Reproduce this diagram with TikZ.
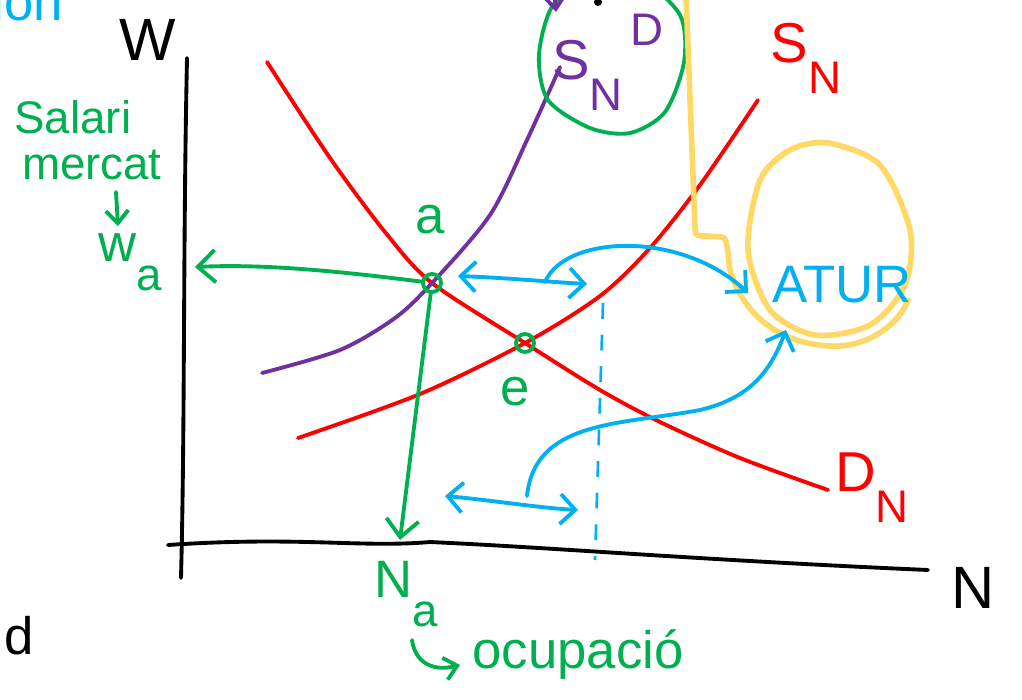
\documentclass[tikz,border=0pt]{standalone}
\usepackage{fontspec}
\setmainfont{Liberation Sans}
\usetikzlibrary{arrows.meta,positioning,calc}
\definecolor{curveRed}{RGB}{255,0,0}
\definecolor{curvePurple}{RGB}{112,48,160}
\definecolor{markGreen}{RGB}{0,176,80}
\definecolor{noteBlue}{RGB}{0,176,240}
\definecolor{markYellow}{RGB}{255,217,102}
\definecolor{inkBlack}{RGB}{0,0,0}
\tikzset{
  hand line/.style={line width=2.2pt,line cap=round,line join=round},
  axis line/.style={hand line,draw=inkBlack},
  red curve/.style={hand line,draw=curveRed},
  purple curve/.style={hand line,draw=curvePurple},
  yellow mark/.style={line width=3.2pt,line cap=round,line join=round,draw=markYellow},
  green blob/.style={hand line,draw=markGreen},
  green arrow/.style={hand line,draw=markGreen,-{Straight Barb[length=3.5mm,width=6.5mm]}},
  green small arrow/.style={hand line,draw=markGreen,-{Straight Barb[length=2.5mm,width=4.5mm]}},
  purple arrow/.style={hand line,draw=curvePurple,-{Straight Barb[length=2.5mm,width=4mm]}},
  blue arrow/.style={hand line,draw=noteBlue,-{Straight Barb[length=3mm,width=6mm]}},
  blue double/.style={hand line,draw=noteBlue,{Straight Barb[length=3mm,width=6mm]}-{Straight Barb[length=3mm,width=6mm]}},
  blue dashed/.style={line width=1.5pt,draw=noteBlue,dash pattern=on 9pt off 9pt},
  green point/.style={circle,draw=markGreen,line width=2.2pt,minimum size=3.6mm,inner sep=0pt},
  axis label/.style={text=inkBlack,font=\fontsize{34}{36}\selectfont,inner sep=0pt},
  red label/.style={text=curveRed,font=\fontsize{32}{34}\selectfont,inner sep=0pt},
  purple label/.style={text=curvePurple,font=\fontsize{32}{34}\selectfont,inner sep=0pt},
  green label/.style={text=markGreen,font=\fontsize{30}{30}\selectfont,inner sep=0pt,align=left},
  blue label/.style={text=noteBlue,font=\fontsize{30}{32}\selectfont,inner sep=0pt}
}
\newcommand{\lowsub}[1]{\raisebox{-0.55em}{\fontsize{26}{26}\selectfont #1}}

\begin{document}
\begin{tikzpicture}[x=0.02cm,y=-0.02cm]
  \useasboundingbox (0,0) rectangle (1022,700);
  % axes
  \draw[axis line] (187,58) .. controls (183,250) and (185,420) .. (181,578);
  \draw[axis line] (168,545) .. controls (300,536) and (360,548) .. (430,542) .. controls (560,548) and (700,560) .. (928,570);
  \node[axis label] (wAxis) at (148,40) {W};
  \node[axis label] (nAxis) at (973,588) {N};
  % market curves
  \coordinate (aPt) at (432,283);
  \coordinate (ePt) at (525,343);
  \draw[red curve] plot[smooth] coordinates {(267,62) (330,158) (385,232) (aPt) (ePt) (600,390) (660,422) (740,458) (828,490)};
  \draw[red curve] plot[smooth] coordinates {(298,438) (420,394) (ePt) (600,296) (650,248) (700,185) (758,100)};
  \draw[purple curve] plot[smooth] coordinates {(262,373) (340,350) (395,318) (aPt) (490,215) (527,140) (560,67)};
  \node[red label] (sLabel) at (806,58) {S\lowsub{N}};
  \node[red label] (dLabel) at (872,488) {D\lowsub{N}};
  % union supply
  \draw[green blob] plot[smooth cycle] coordinates {(553,5) (539,55) (548,100) (590,128) (630,133) (665,112) (684,62) (680,15) (640,-20) (590,-20)};
  \node[purple label] (sdLabel) at (608,62) {S\lowsub{N}\raisebox{0.6em}{\fontsize{26}{26}\selectfont\,D}};
  \coordinate (sdTop) at (552,-30);
  \coordinate (sdTip) at (556,12);
  \draw[purple arrow] (sdTop) -- (sdTip);
  \fill[inkBlack] (598,2) circle[radius=4];
  % unemployment
  \draw[yellow mark] plot[smooth cycle] coordinates {(828,143) (880,165) (910,230) (905,285) (870,325) (815,335) (770,310) (748,250) (760,180) (790,150)};
  \draw[yellow mark] (686,-5) -- (692,150) -- (695,228) .. controls (696,236) .. (706,236) -- (722,237) .. controls (728,238) and (727,250) .. (730,270) .. controls (745,320) and (785,344) .. (830,346) .. controls (870,348) and (900,322) .. (908,300);
  \node[blue label] (atur) at (842,285) {ATUR};
  % equilibrium points
  \node[green point] (a) at (aPt) {};
  \node[green point] (e) at (ePt) {};
  \node[green label] (aLabel) at (430,220) {a};
  \node[green label] (eLabel) at (515,392) {e};
  % wage and employment
  \node[green label] (waLabel) at (130,262) {w\lowsub{a}};
  \node[green label,font=\fontsize{26}{28}\selectfont] (salari) at (88,140) {Salari\\[-2pt]\,mercat};
  \coordinate (salariTip) at (118,226);
  \draw[green small arrow] (116,192) -- (salariTip);
  \coordinate (waTip) at (195,267);
  \draw[green arrow] (a) .. controls (330,270) and (260,264) .. (waTip);
  \coordinate (naTip) at (400,540);
  \draw[green arrow] (a) -- (naTip);
  \node[green label] (naLabel) at (406,594) {N\lowsub{a}};
  \coordinate (hookTip) at (460,665);
  \draw[green small arrow] (412,640) .. controls (415,662) and (432,672) .. (hookTip);
  \node[green label] (ocupacio) at (578,655) {ocupació};
  % excess supply
  \coordinate (gapL) at (458,276);
  \coordinate (gapR) at (587,284);
  \draw[blue double] (gapL) .. controls (510,278) and (550,282) .. (gapR);
  \coordinate (gapStart) at (545,282);
  \coordinate (aturTop) at (748,293);
  \draw[blue arrow] (gapStart) .. controls (565,235) and (680,230) .. (aturTop);
  \draw[blue dashed] (603,303) -- (595,560);
  \coordinate (lowL) at (445,496);
  \coordinate (lowR) at (578,510);
  \draw[blue double] (lowL) .. controls (490,500) and (540,508) .. (lowR);
  \coordinate (lowStart) at (527,496);
  \coordinate (aturLow) at (786,330);
  \draw[blue arrow] (lowStart) .. controls (535,420) and (620,425) .. (700,410) .. controls (750,398) and (770,372) .. (aturLow);
  % cut-off notes
  \node[blue label,anchor=base west] (cutNote) at (-8,20) {ión};
  \node[axis label,font=\fontsize{30}{30}\selectfont,anchor=base east] (cutMark) at (34,654) {d};
\end{tikzpicture}
\end{document}
